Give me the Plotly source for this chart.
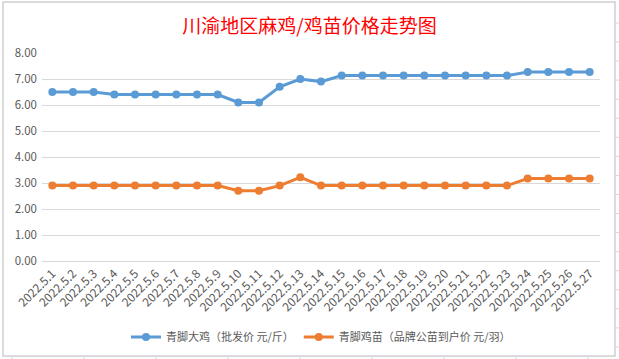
import plotly.graph_objects as go

dates = [f"2022.5.{d}" for d in range(1, 28)]
broiler = [6.5, 6.5, 6.5, 6.4, 6.4, 6.4, 6.4, 6.4, 6.4, 6.1, 6.1, 6.7, 7.0, 6.9,
           7.13, 7.13, 7.13, 7.13, 7.13, 7.13, 7.13, 7.13, 7.13, 7.27, 7.27, 7.27, 7.27]
chick = [2.9, 2.9, 2.9, 2.9, 2.9, 2.9, 2.9, 2.9, 2.9, 2.7, 2.7, 2.9, 3.22, 2.9,
         2.9, 2.9, 2.9, 2.9, 2.9, 2.9, 2.9, 2.9, 2.9, 3.17, 3.17, 3.17, 3.17]
name1 = "青脚大鸡（批发价 元/斤）"
name2 = "青脚鸡苗（品牌公苗到户价 元/羽）"
title = "川渝地区麻鸡/鸡苗价格走势图"

font_family = "Noto Sans CJK SC, Noto Sans, sans-serif"
fig = go.Figure()
fig.add_trace(go.Scatter(x=dates, y=broiler, name=name1, mode="lines+markers",
                         line=dict(color="#5B9BD5", width=3),
                         marker=dict(color="#5B9BD5", size=8)))
fig.add_trace(go.Scatter(x=dates, y=chick, name=name2, mode="lines+markers",
                         line=dict(color="#ED7D31", width=3),
                         marker=dict(color="#ED7D31", size=8)))

W, H = 619, 359
PL, PR, PT, PB = 42, 600, 53, 261
pw, ph = PR - PL, PB - PT


def px_x(x):
    return (x - PL) / pw


def px_y(y):
    return (PB - y) / ph


shapes = [dict(type="rect", xref="paper", yref="paper",
               x0=px_x(3), x1=px_x(615), y0=px_y(356), y1=px_y(2),
               line=dict(color="#D0D0D0", width=1.5), layer="below")]
# spreadsheet grid marks outside the chart area
for k in range(9):
    x = 12 + 72 * k
    shapes.append(dict(type="line", xref="paper", yref="paper",
                       x0=px_x(x), x1=px_x(x), y0=px_y(357), y1=px_y(359),
                       line=dict(color="#D0D7E5", width=1)))
for y in [23] + [42 + 19.06 * k for k in range(17)]:
    shapes.append(dict(type="line", xref="paper", yref="paper",
                       x0=px_x(616), x1=px_x(619), y0=px_y(y), y1=px_y(y),
                       line=dict(color="#D0D7E5", width=1)))

fig.update_layout(
    width=W, height=H,
    margin=dict(l=PL, r=W - PR, t=PT, b=H - PB, autoexpand=False),
    paper_bgcolor="white", plot_bgcolor="white",
    title=dict(text=title, x=0.5, xanchor="center", y=1 - 26 / H, yanchor="middle",
               yref="container",
               font=dict(family=font_family, size=19, color="#FF0000")),
    font=dict(family=font_family, color="#595959"),
    xaxis=dict(type="category", range=[-0.5, len(dates) - 0.5], tickangle=-45,
               tickfont=dict(size=12, color="#595959"),
               showgrid=False, showline=True, linecolor="#D9D9D9", linewidth=1,
               ticks="", automargin=False, fixedrange=True),
    yaxis=dict(range=[0, 8], dtick=1, tickformat=".2f", showgrid=True,
               gridcolor="#D9D9D9", gridwidth=1, zeroline=False,
               tickfont=dict(size=11.5, color="#595959"), ticks="",
               ticklabelstandoff=4, automargin=False, fixedrange=True),
    legend=dict(orientation="h", x=0.5, xanchor="center", y=1 - 337 / H,
                yref="container", yanchor="middle",
                font=dict(size=11, color="#595959"), itemwidth=30),
    shapes=shapes,
    showlegend=True,
)
fig.write_html("out.html", config={"displayModeBar": False},
               post_script="document.body.style.margin='0';document.body.style.overflow='hidden';")
